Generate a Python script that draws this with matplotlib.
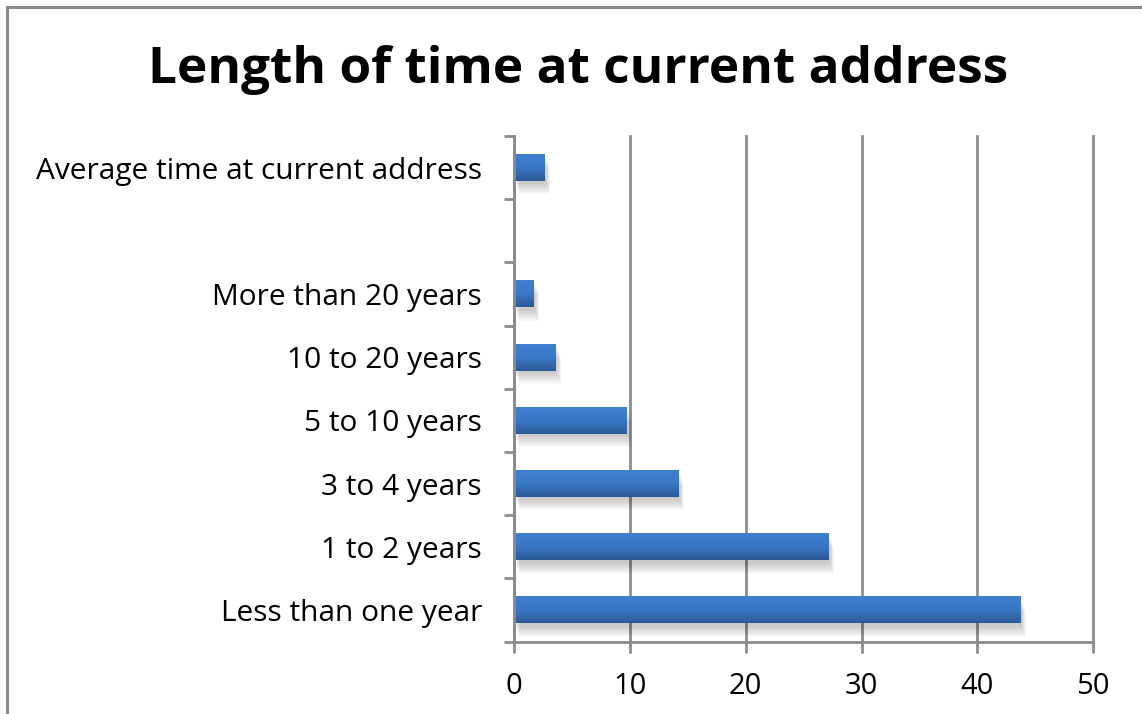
import numpy as np
import matplotlib.pyplot as plt
from matplotlib.colors import LinearSegmentedColormap
from matplotlib.patches import Rectangle

categories = [
    "Less than one year",
    "1 to 2 years",
    "3 to 4 years",
    "5 to 10 years",
    "10 to 20 years",
    "More than 20 years",
    "",
    "Average time at current address",
]
values = [43.7, 27.15, 14.2, 9.75, 3.6, 1.7, np.nan, 2.65]
x_ticks = [0, 10, 20, 30, 40, 50]

plt.rcParams["font.family"] = ["Open Sans", "DejaVu Sans"]

fig = plt.figure(figsize=(11.42, 7.14), dpi=100)
W, H = 1142, 714

# outer chart frame
fig.patches.append(Rectangle((7 / W, -0.1), 1.2, (714 - 7) / H + 0.1,
                             transform=fig.transFigure, fill=False,
                             edgecolor="#8a8a8a", linewidth=2.2))

ax = fig.add_axes([514 / W, (714 - 641.7) / H, (1093.3 - 514) / W, (641.7 - 136) / H])

grad = LinearSegmentedColormap.from_list("bar", ["#2c5a96", "#3a78c6", "#3f7fd0"])
bar_h = 0.42
ys = np.arange(len(categories))

for y, v in zip(ys, values):
    if np.isnan(v):
        continue
    # soft drop shadow
    for k in range(6):
        off = 0.06 + k * 0.035
        ax.add_patch(Rectangle((0.15 + k * 0.06, y - bar_h / 2 - off * 0.9),
                               v, bar_h, facecolor="#000000", alpha=0.035,
                               edgecolor="none", zorder=2))
    g = np.linspace(0, 1, 64).reshape(-1, 1)
    ax.imshow(g, cmap=grad, aspect="auto", origin="lower",
              extent=[0, v, y - bar_h / 2, y + bar_h / 2], zorder=3,
              interpolation="bicubic")

ax.set_xlim(0, 50)
ax.set_ylim(-0.5, len(categories) - 0.5)

ax.set_xticks(x_ticks)
ax.set_xticklabels([str(t) for t in x_ticks], fontsize=21)
ax.set_yticks(np.arange(len(categories) + 1) - 0.5)
ax.set_yticklabels([])
ax.set_yticks(ys, categories, minor=True, fontsize=21.5)

ax.tick_params(axis="y", which="major", length=7, width=2, color="#8c8c8c", direction="out")
ax.tick_params(axis="y", which="minor", length=0, pad=23)
ax.tick_params(axis="x", length=8, width=2, color="#8c8c8c", direction="out", pad=14)

ax.grid(axis="x", color="#8c8c8c", linewidth=2)
for line in ax.get_xgridlines():
    line.set_clip_on(False)
ax.set_axisbelow(True)
for side in ["top", "right"]:
    ax.spines[side].set_visible(False)
for side in ["left", "bottom"]:
    ax.spines[side].set_color("#8c8c8c")
    ax.spines[side].set_linewidth(2)
    ax.spines[side].set_zorder(5)

fig.text(578 / W, 1 - 70 / H, "Length of time at current address",
         ha="center", va="center", fontsize=37, fontweight="bold")

fig.savefig("out.png", dpi=100)
